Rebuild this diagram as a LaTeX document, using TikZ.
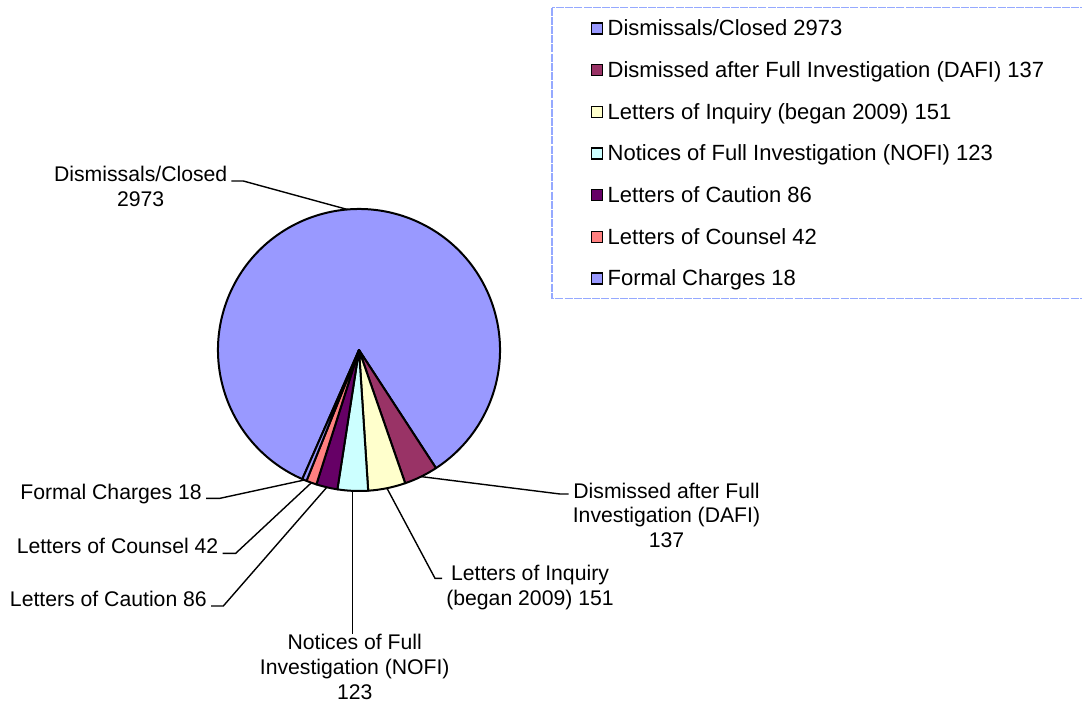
\documentclass[tikz,border=0pt]{standalone}
\usepackage{fontspec}
\setmainfont{Liberation Sans}
\definecolor{cDis}{HTML}{9999FF}
\definecolor{cDafi}{HTML}{993366}
\definecolor{cInq}{HTML}{FFFFCC}
\definecolor{cNofi}{HTML}{CCFFFF}
\definecolor{cCau}{HTML}{660066}
\definecolor{cCou}{HTML}{FF8080}
\definecolor{cFor}{HTML}{9999FF}
\definecolor{legborder}{HTML}{95A9FF}
\begin{document}
\begin{tikzpicture}[x=1pt,y=1pt,
  slice/.style={draw=black, line width=2pt, line join=round},
  leader/.style={draw=black, line width=1.4pt},
  lbl/.style={font=\fontsize{21.2}{24.6}\selectfont, inner xsep=4pt, inner ysep=0pt, align=center},
  legsq/.style={draw=black, line width=1.6pt, minimum size=11pt, inner sep=0pt},
  legtxt/.style={font=\fontsize{22}{24.6}\selectfont, inner sep=0pt, anchor=base west},
  legbox/.style={draw=legborder, line width=1.8pt, dash pattern=on 8pt off 1.2pt}]
\useasboundingbox (0,0) rectangle (1082,-702);
\def\R{141}
\coordinate (C) at (359,-350);
% pie slices
\filldraw[slice, fill=cDis]  (C) -- ++(-113.705:\R) arc[start angle=-113.705, end angle=-416.9, radius=\R] -- cycle;
\filldraw[slice, fill=cDafi] (C) -- ++(-56.9:\R) arc[start angle=-56.9, end angle=-70.872, radius=\R] -- cycle;
\filldraw[slice, fill=cInq]  (C) -- ++(-70.872:\R) arc[start angle=-70.872, end angle=-86.271, radius=\R] -- cycle;
\filldraw[slice, fill=cNofi] (C) -- ++(-86.271:\R) arc[start angle=-86.271, end angle=-98.815, radius=\R] -- cycle;
\filldraw[slice, fill=cCau]  (C) -- ++(-98.815:\R) arc[start angle=-98.815, end angle=-107.586, radius=\R] -- cycle;
\filldraw[slice, fill=cCou]  (C) -- ++(-107.586:\R) arc[start angle=-107.586, end angle=-111.869, radius=\R] -- cycle;
\filldraw[slice, fill=cFor]  (C) -- ++(-111.869:\R) arc[start angle=-111.869, end angle=-113.705, radius=\R] -- cycle;
% leader start points on the rim
\path (C) ++(94.7:\R) coordinate (eDis);
\path (C) ++(-63.886:\R) coordinate (eDafi);
\path (C) ++(-78.57:\R) coordinate (eInq);
\path (C) ++(-92.54:\R) coordinate (eNofi);
\path (C) ++(-103.2:\R) coordinate (eCau);
\path (C) ++(-109.73:\R) coordinate (eCou);
\path (C) ++(-112.79:\R) coordinate (eFor);
% labels (base anchor = baseline of the last line)
\node[lbl, anchor=base] (lDis) at (140.7,-206.3) {Dismissals/Closed\\2973};
\node[lbl, anchor=base] (lDafi) at (666.5,-547.5) {Dismissed after Full\\Investigation (DAFI)\\137};
\node[lbl, anchor=base] (lInq) at (530,-605.1) {Letters of Inquiry\\(began 2009) 151};
\node[lbl, anchor=base] (lNofi) at (354.7,-699) {Notices of Full\\Investigation (NOFI)\\123};
\node[lbl, anchor=base east] (lFor) at (206,-499.3) {Formal Charges 18};
\node[lbl, anchor=base east] (lCou) at (222.5,-553.3) {Letters of Counsel 42};
\node[lbl, anchor=base east] (lCau) at (211,-606.7) {Letters of Caution 86};
% elbows
\coordinate (kDis) at (243.3,-181);
\coordinate (kDafi) at (560,-494);
\coordinate (kInq) at (435,-578.3);
\coordinate (kFor) at (220,-498.3);
\coordinate (kCou) at (235.7,-553.3);
\coordinate (kCau) at (223.3,-606);
% leaders
\draw[leader] (eDis) -- (kDis) -- (kDis -| lDis.east);
\draw[leader] (eDafi) -- (kDafi) -- (kDafi -| lDafi.west);
\draw[leader] (eInq) -- (kInq) -- (kInq -| lInq.west);
\draw[leader] (eNofi) -- (eNofi |- lNofi.north);
\draw[leader] (eFor) -- (kFor) -- (kFor -| lFor.east);
\draw[leader] (eCou) -- (kCou) -- (kCou -| lCou.east);
\draw[leader] (eCau) -- (kCau) -- (kCau -| lCau.east);
% legend
\draw[legbox] (552,-7.5) rectangle (1095,-298.5);
\foreach \i/\c/\t in {0/cDis/{Dismissals/Closed 2973},
                      1/cDafi/{Dismissed after Full Investigation (DAFI) 137},
                      2/cInq/{Letters of Inquiry (began 2009) 151},
                      3/cNofi/{Notices of Full Investigation (NOFI) 123},
                      4/cCau/{Letters of Caution 86},
                      5/cCou/{Letters of Counsel 42},
                      6/cFor/{Formal Charges 18}}{
  \node[legsq, fill=\c] (sq\i) at (597,{-28.5-41.67*\i}) {};
  \node[legtxt] (lt\i) at (607.5,{-35.7-41.67*\i}) {\t};
}
\end{tikzpicture}
\end{document}
